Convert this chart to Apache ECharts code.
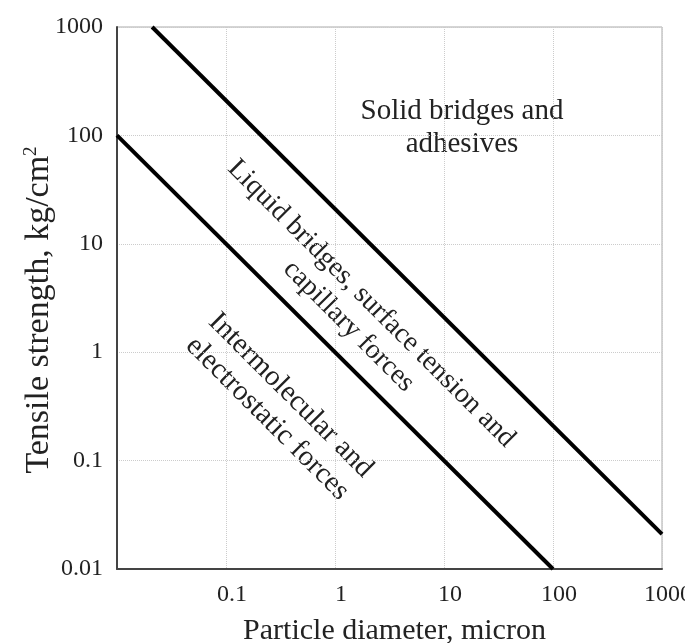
<!DOCTYPE html>
<html>
<head>
<meta charset="utf-8">
<script src="https://cdn.jsdelivr.net/npm/echarts@6/dist/echarts.min.js"></script>
<style>
html,body{margin:0;padding:0;background:#fff;}
#chart{width:685px;height:643px;}
</style>
</head>
<body>
<div id="chart"></div>
<script>
// ---- data ----
var xTickValues = [0.01, 0.1, 1, 10, 100, 1000];
var xTickLabels = ['', '0.1', '1', '10', '100', '1000'];
var yTickValues = [0.01, 0.1, 1, 10, 100, 1000];
var yTickLabels = ['0.01', '0.1', '1', '10', '100', '1000'];
// boundary lines [particle diameter (micron), tensile strength (kg/cm2)]
var intermolecularLine = [[0.01, 100], [100, 0.01]];
var liquidBridgeLine = [[0.021, 1000], [1000, 0.021]];

var FONT = "'Liberation Serif','Times New Roman',serif";

function lookup(values, labels, v) {
  for (var i = 0; i < values.length; i++) {
    if (Math.abs(Math.log10(v) - Math.log10(values[i])) < 1e-6) return labels[i];
  }
  return '';
}

var chart = echarts.init(document.getElementById('chart'));
chart.setOption({
  animation: false,
  backgroundColor: '#fff',
  grid: {left: 117, right: 23, top: 27, bottom: 74, show: true, borderColor: '#aaa', borderWidth: 1,
    containLabel: false, outerBoundsMode: 'none'},
  xAxis: {
    type: 'log', logBase: 10, min: 0.01, max: 1000,
    name: 'Particle diameter, micron', nameLocation: 'middle', nameGap: 47, nameMoveOverlap: false,
    nameTextStyle: {fontFamily: FONT, fontSize: 30, color: '#222', padding: [0, 0, 0, 10]},
    axisLine: {show: true, lineStyle: {color: '#444', width: 2}},
    axisTick: {show: false},
    axisLabel: {fontFamily: FONT, fontSize: 24, color: '#222', margin: 14, padding: [0, 0, 0, 12],
      formatter: function (v) { return lookup(xTickValues, xTickLabels, v); }},
    splitLine: {show: true, lineStyle: {color: '#ccc', type: 'dotted', width: 1}},
    minorSplitLine: {show: false}
  },
  yAxis: {
    type: 'log', logBase: 10, min: 0.01, max: 1000,
    name: 'Tensile strength, kg/cm{sup|2}', nameLocation: 'middle', nameGap: 60, nameRotate: 90,
    nameMoveOverlap: false,
    nameTextStyle: {fontFamily: FONT, fontSize: 34, color: '#222', padding: [0, 24, 0, 0],
      rich: {sup: {fontFamily: FONT, fontSize: 19, color: '#222', padding: [0, 0, 16, 0]}}},
    axisLine: {show: true, lineStyle: {color: '#444', width: 2}},
    axisTick: {show: false},
    axisLabel: {fontFamily: FONT, fontSize: 24, color: '#222', margin: 14,
      formatter: function (v) { return lookup(yTickValues, yTickLabels, v); }},
    splitLine: {show: true, lineStyle: {color: '#ccc', type: 'dotted', width: 1}}
  },
  series: [
    {type: 'line', data: intermolecularLine, symbol: 'none', lineStyle: {color: '#000', width: 4}},
    {type: 'line', data: liquidBridgeLine, symbol: 'none', lineStyle: {color: '#000', width: 4}}
  ],
  graphic: [
    {type: 'text', x: 462, y: 128, style: {text: 'Solid bridges and\nadhesives', font: "29px " + FONT,
      fill: '#222', align: 'center', verticalAlign: 'middle', lineHeight: 33}},
    {type: 'text', x: 360, y: 315, rotation: -Math.PI / 4, style: {text: 'Liquid bridges, surface tension and\ncapillary forces',
      font: "28px " + FONT, fill: '#222', align: 'center', verticalAlign: 'middle', lineHeight: 32}},
    {type: 'text', x: 279, y: 407, rotation: -Math.PI / 4, style: {text: 'Intermolecular and\nelectrostatic forces',
      font: "29px " + FONT, fill: '#222', align: 'center', verticalAlign: 'middle', lineHeight: 33}}
  ]
});
</script>
</body>
</html>
